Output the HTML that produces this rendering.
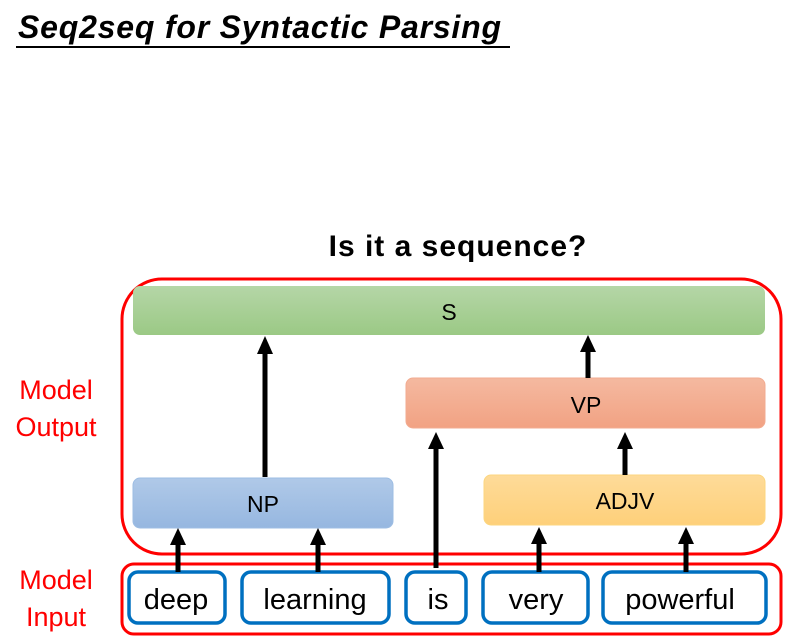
<!DOCTYPE html>
<html><head><meta charset="utf-8"><style>
body{margin:0;width:797px;height:643px;background:#fff;overflow:hidden;position:relative;font-family:"Liberation Sans",sans-serif}
.t{position:absolute;white-space:nowrap}
</style></head><body>
<div class="t" style="left:18px;top:9px;font-size:32px;font-weight:bold;font-style:italic;color:#000;letter-spacing:0.8px">Seq2seq for Syntactic Parsing</div>
<div style="position:absolute;left:16px;top:46px;width:494px;height:2px;background:#000"></div>
<div class="t" style="left:0;width:916px;top:230px;text-align:center;font-size:30px;font-weight:bold;letter-spacing:1px">Is it a sequence?</div>
<div class="t" style="left:0;width:112px;top:372px;text-align:center;font-size:27px;line-height:37px;color:#f00">Model<br>Output</div>
<div class="t" style="left:0;width:112px;top:562px;text-align:center;font-size:27px;line-height:37px;color:#f00">Model<br>Input</div>
<svg width="797" height="643" style="position:absolute;left:0;top:0">
<defs>
<linearGradient id="g" x1="0" y1="0" x2="0" y2="1"><stop offset="0" stop-color="#b5d6a7"/><stop offset="1" stop-color="#9bc985"/></linearGradient>
<linearGradient id="b" x1="0" y1="0" x2="0" y2="1"><stop offset="0" stop-color="#b0c9e8"/><stop offset="1" stop-color="#96b7e0"/></linearGradient>
<linearGradient id="r" x1="0" y1="0" x2="0" y2="1"><stop offset="0" stop-color="#f4b9a0"/><stop offset="1" stop-color="#f2a283"/></linearGradient>
<linearGradient id="y" x1="0" y1="0" x2="0" y2="1"><stop offset="0" stop-color="#fedb99"/><stop offset="1" stop-color="#fed07a"/></linearGradient>
</defs>
<rect x="122" y="279" width="659" height="275" rx="40" fill="none" stroke="#f00" stroke-width="3"/>
<rect x="122" y="564" width="659" height="70" rx="12" fill="none" stroke="#f00" stroke-width="3"/>
<rect x="133" y="286" width="632" height="49" rx="7" fill="url(#g)"/>
<rect x="133" y="478" width="260" height="50" rx="7" fill="url(#b)" stroke="#9dbde3"/>
<rect x="406" y="378" width="359" height="50" rx="7" fill="url(#r)" stroke="#f2ab90"/>
<rect x="484" y="475" width="281" height="50" rx="7" fill="url(#y)" stroke="#fcd67f"/>
<g font-family="Liberation Sans, sans-serif" font-size="23" text-anchor="middle" fill="#000">
<text x="449" y="320">S</text><text x="263" y="512">NP</text><text x="586" y="413">VP</text><text x="625" y="509">ADJV</text>
</g>
<g fill="#fff" stroke="#0070c0" stroke-width="3.5">
<rect x="129" y="572" width="96" height="51" rx="9"/>
<rect x="242" y="572" width="147" height="51" rx="9"/>
<rect x="406" y="572" width="60" height="51" rx="9"/>
<rect x="483" y="572" width="105" height="51" rx="9"/>
<rect x="603" y="572" width="163" height="51" rx="9"/>
</g>
<g font-family="Liberation Sans, sans-serif" font-size="29" text-anchor="middle" fill="#000">
<text x="176" y="609">deep</text><text x="315" y="609">learning</text><text x="438" y="609">is</text><text x="536" y="609">very</text><text x="680" y="609">powerful</text>
</g>
<g stroke="#000" stroke-width="5">
<line x1="265" y1="477" x2="265" y2="354"/>
<line x1="178" y1="572" x2="178" y2="545"/>
<line x1="318" y1="572" x2="318" y2="545"/>
<line x1="436" y1="568" x2="436" y2="449"/>
<line x1="539" y1="572" x2="539" y2="544"/>
<line x1="686" y1="572" x2="686" y2="544"/>
<line x1="588" y1="378" x2="588" y2="352"/>
<line x1="625" y1="475" x2="625" y2="449"/>
</g>
<g fill="#000">
<path d="M257,354 L273,354 L265,336z"/>
<path d="M170,545 L186,545 L178,528z"/>
<path d="M310,545 L326,545 L318,528z"/>
<path d="M428,449 L444,449 L436,432z"/>
<path d="M531,544 L547,544 L539,527z"/>
<path d="M678,544 L694,544 L686,527z"/>
<path d="M580,352 L596,352 L588,335z"/>
<path d="M617,449 L633,449 L625,432z"/>
</g>
</svg>
</body></html>
